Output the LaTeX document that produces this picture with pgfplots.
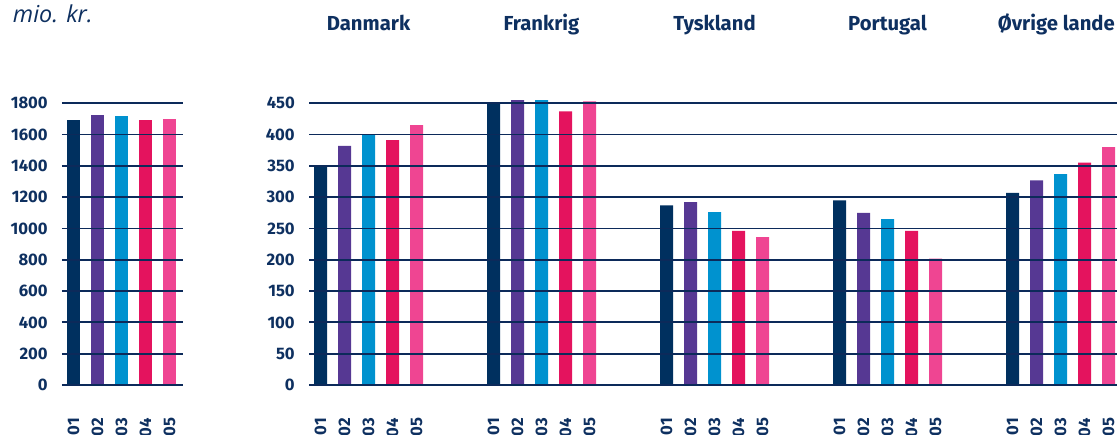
\documentclass[border=0pt]{standalone}
\usepackage{fontspec}
\setmainfont{Fira Sans}
\newfontfamily\miofont{Open Sans}
\usepackage{pgfplots}
\pgfplotsset{compat=1.18}
\definecolor{c1}{RGB}{0,48,95}
\definecolor{c2}{RGB}{86,56,147}
\definecolor{c3}{RGB}{0,146,207}
\definecolor{c4}{RGB}{228,19,94}
\definecolor{c5}{RGB}{239,69,146}
\definecolor{txt}{RGB}{14,48,96}
\definecolor{gridc}{RGB}{12,42,90}
\pgfplotsset{
  common/.style={
    scale only axis, height=211.3pt, ymin=0,
    axis on top, axis line style={draw=none}, major tick length=0pt,
    ymajorgrids, grid style={line width=1.35pt, color=gridc},
    tick label style={font=\fontsize{12.5}{13}\selectfont\bfseries, text=txt},
    /pgf/number format/assume math mode=true,
    /pgf/number format/1000 sep={},
    yticklabel style={inner sep=0pt, xshift=-10.5pt},
    xticklabel style={inner sep=0pt, yshift=-24.5pt, rotate=90, anchor=east},
    clip=false,
  },
  bars/.style={ybar, bar width=9.75pt, draw=none, fill=#1},
}
\begin{document}
\begin{tikzpicture}[x=0.75pt,y=0.75pt]
\path[use as bounding box] (0,0) rectangle (1117,435);
\node[anchor=base west, inner sep=0pt, font=\miofont\itshape\fontsize{17.5}{18}\selectfont, text=txt] at (12.7,412.3) {mio. kr.};
\begin{axis}[common, at={(46.5pt,37.5pt)}, anchor=south west,
  width=90.75pt, xmin=0.521, xmax=5.5625, ymax=1800,
  ytick={0,200,...,1800}, xtick={1,2,3,4,5},
  xticklabels={01,02,03,04,05}]
\addplot[bars=c1, bar shift=0pt] coordinates {(1,1693)};
\addplot[bars=c2, bar shift=0pt] coordinates {(2,1725)};
\addplot[bars=c3, bar shift=0pt] coordinates {(3,1719)};
\addplot[bars=c4, bar shift=0pt] coordinates {(4,1693)};
\addplot[bars=c5, bar shift=0pt] coordinates {(5,1702)};
\end{axis}
\begin{axis}[common, at={(231.75pt,37.5pt)}, anchor=south west,
  width=606pt, xmin=-0.34393, xmax=4.32659, ymax=450,
  ytick={0,50,...,450},
  xtick={-0.27746,-0.13873,0,0.13873,0.27746,
         0.72254,0.86127,1,1.13873,1.27746,
         1.72254,1.86127,2,2.13873,2.27746,
         2.72254,2.86127,3,3.13873,3.27746,
         3.72254,3.86127,4,4.13873,4.27746},
  xticklabels={01,02,03,04,05,01,02,03,04,05,01,02,03,04,05,01,02,03,04,05,01,02,03,04,05}]
\addplot[bars=c1, bar shift=-36pt] coordinates {(0,348) (1,450) (2,287) (3,295) (4,307)};
\addplot[bars=c2, bar shift=-18pt] coordinates {(0,382) (1,455) (2,292) (3,275) (4,327)};
\addplot[bars=c3, bar shift=0pt]   coordinates {(0,400) (1,455) (2,276) (3,265) (4,337)};
\addplot[bars=c4, bar shift=18pt]  coordinates {(0,391) (1,437) (2,246) (3,246) (4,355)};
\addplot[bars=c5, bar shift=36pt]  coordinates {(0,415) (1,453) (2,236) (3,202) (4,380)};
\begin{scope}[every node/.style={inner sep=0pt, font=\fontsize{15.2}{16}\selectfont\bfseries, text=txt}]
\node[anchor=base] at (axis cs:0,566) {Danmark};
\node[anchor=base] at (axis cs:1,566) {Frankrig};
\node[anchor=base] at (axis cs:2,566) {Tyskland};
\node[anchor=base] at (axis cs:3,566) {Portugal};
\node[anchor=base east] at (axis cs:4.3155,566) {Øvrige lande};
\end{scope}
\end{axis}
\end{tikzpicture}
\end{document}
